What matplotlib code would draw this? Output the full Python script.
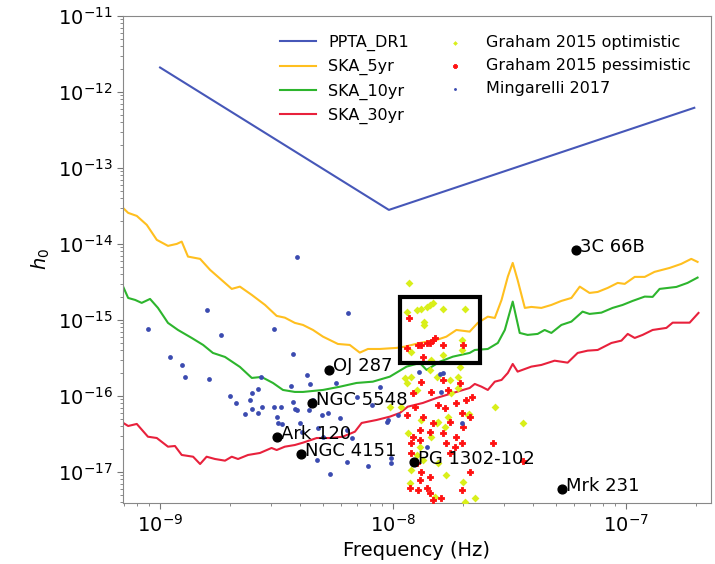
import numpy as np
import matplotlib
matplotlib.use("Agg")
import matplotlib.pyplot as plt
from matplotlib.patches import Rectangle
from matplotlib.ticker import NullFormatter

# sensitivity curves as log10(f), log10(h0)
ppta_logf = [-9.0, -8.017, -6.705]
ppta_logh = [-11.68, -13.553, -12.21]

ska5_logf = [-9.158, -9.137, -9.100, -9.057, -9.014, -8.966, -8.928, -8.907, -8.880, -8.828,
             -8.785, -8.692, -8.657, -8.606, -8.549, -8.499, -8.464, -8.421, -8.386, -8.343,
             -8.300, -8.236, -8.185, -8.142, -8.107, -8.056, -7.984, -7.948, -7.884, -7.812,
             -7.770, -7.727, -7.670, -7.635, -7.592, -7.562, -7.533, -7.506, -7.485, -7.464,
             -7.433, -7.405, -7.362, -7.319, -7.276, -7.233, -7.197, -7.155, -7.120, -7.077,
             -7.034, -7.004, -6.961, -6.918, -6.876, -6.811, -6.761, -6.718, -6.691]
ska5_logh = [-13.530, -13.592, -13.632, -13.750, -13.947, -14.026, -14.000, -13.970, -14.167, -14.197,
             -14.342, -14.592, -14.562, -14.671, -14.803, -14.947, -14.970, -15.039, -15.066, -15.132,
             -15.220, -15.316, -15.329, -15.430, -15.382, -15.382, -15.368, -15.351, -15.303, -15.263,
             -15.220, -15.132, -15.154, -15.039, -14.957, -14.974, -14.737, -14.430, -14.250, -14.474,
             -14.842, -14.829, -14.842, -14.803, -14.750, -14.711, -14.562, -14.645, -14.632, -14.579,
             -14.513, -14.526, -14.434, -14.434, -14.368, -14.316, -14.263, -14.197, -14.237]

ska10_logf = [-9.158, -9.137, -9.107, -9.079, -9.043, -9.009, -8.966, -8.923, -8.864, -8.815,
              -8.773, -8.721, -8.657, -8.606, -8.564, -8.515, -8.472, -8.421, -8.386, -8.300,
              -8.227, -8.156, -8.086, -8.013, -7.941, -7.884, -7.855, -7.798, -7.742, -7.670,
              -7.648, -7.592, -7.549, -7.519, -7.485, -7.455, -7.421, -7.378, -7.348, -7.319,
              -7.276, -7.233, -7.185, -7.155, -7.104, -7.056, -7.013, -6.970, -6.918, -6.884,
              -6.854, -6.782, -6.734, -6.691]
ska10_logh = [-14.566, -14.711, -14.737, -14.776, -14.724, -14.842, -15.039, -15.132, -15.237, -15.329,
              -15.434, -15.487, -15.618, -15.763, -15.750, -15.829, -15.921, -15.947, -15.947, -15.921,
              -15.878, -15.829, -15.812, -15.746, -15.614, -15.566, -15.658, -15.549, -15.483, -15.434,
              -15.395, -15.382, -15.303, -15.132, -14.759, -15.171, -15.197, -15.184, -15.132, -15.171,
              -15.066, -15.022, -14.891, -14.921, -14.904, -14.842, -14.803, -14.750, -14.693, -14.697,
              -14.592, -14.566, -14.513, -14.443]

ska30_logf = [-9.158, -9.137, -9.100, -9.052, -9.014, -8.966, -8.936, -8.907, -8.858, -8.828,
              -8.800, -8.764, -8.721, -8.692, -8.665, -8.622, -8.571, -8.521, -8.499, -8.464,
              -8.421, -8.386, -8.327, -8.270, -8.215, -8.163, -8.134, -8.070, -8.013, -7.970,
              -7.936, -7.871, -7.812, -7.742, -7.670, -7.648, -7.619, -7.592, -7.562, -7.533,
              -7.506, -7.485, -7.464, -7.405, -7.362, -7.305, -7.249, -7.206, -7.163, -7.120,
              -7.061, -7.018, -6.991, -6.961, -6.927, -6.884, -6.825, -6.798, -6.725, -6.687]
ska30_logh = [-16.355, -16.395, -16.368, -16.536, -16.553, -16.667, -16.658, -16.776, -16.799, -16.895,
              -16.799, -16.829, -16.851, -16.799, -16.829, -16.776, -16.750, -16.684, -16.711, -16.667,
              -16.645, -16.614, -16.553, -16.553, -16.536, -16.470, -16.355, -16.316, -16.272, -16.224,
              -16.141, -16.092, -16.026, -15.961, -15.895, -15.842, -15.878, -15.921, -15.812, -15.789,
              -15.697, -15.579, -15.680, -15.614, -15.592, -15.536, -15.562, -15.434, -15.404, -15.395,
              -15.303, -15.272, -15.184, -15.237, -15.197, -15.132, -15.105, -15.036, -15.036, -14.908]

# Graham 2015 candidates
opt_logf = [-7.930, -7.941, -7.898, -7.877, -7.855, -7.841, -7.827, -7.784, -7.691, -7.866,
            -7.866, -7.705, -7.705, -7.784, -7.834, -7.948, -7.920, -7.841, -7.812, -7.755,
            -7.720, -7.712, -7.898, -7.749, -7.720, -7.562, -7.963, -7.763, -7.677, -7.877,
            -7.806, -7.777, -7.834, -7.812, -7.934, -7.884, -7.898, -7.920, -7.770, -7.698,
            -7.648, -7.927, -7.820, -7.870, -7.806, -7.674, -7.441, -8.013, -7.941, -7.691,
            -7.920]
opt_logh = [-14.509, -14.891, -14.868, -14.859, -14.825, -14.803, -14.780, -14.855, -14.859, -15.022,
            -15.066, -15.263, -15.395, -15.461, -15.526, -15.767, -15.746, -15.658, -15.746, -15.789,
            -15.746, -15.614, -15.921, -15.964, -15.899, -16.141, -16.141, -16.272, -16.250, -16.316,
            -16.338, -16.404, -16.536, -16.359, -16.491, -16.667, -16.776, -16.974, -17.039, -17.128,
            -17.346, -17.149, -17.325, -16.842, -16.886, -16.241, -16.359, -16.141, -15.833, -17.391,
            -15.417]

pes_logf = [-7.930, -7.941, -7.891, -7.877, -7.855, -7.841, -7.827, -7.820, -7.784, -7.698,
            -7.870, -7.784, -7.877, -7.913, -7.763, -7.712, -7.834, -7.941, -7.906, -7.806,
            -7.777, -7.727, -7.684, -7.662, -7.670, -7.870, -7.827, -7.884, -7.841, -7.913,
            -7.755, -7.705, -7.784, -7.727, -7.698, -7.920, -7.884, -7.770, -7.734, -7.705,
            -7.570, -7.920, -7.898, -7.755, -7.877, -7.841, -7.884, -7.927, -7.891, -7.855,
            -7.841, -7.791, -7.705, -7.670, -7.441, -7.828]
pes_logh = [-14.978, -15.372, -15.329, -15.329, -15.307, -15.299, -15.263, -15.241, -15.329, -15.329,
            -15.491, -15.789, -15.812, -15.964, -15.921, -15.833, -15.943, -16.250, -16.141, -16.118,
            -16.162, -16.096, -16.053, -16.009, -16.272, -16.272, -16.359, -16.447, -16.470, -16.536,
            -16.338, -16.228, -16.491, -16.536, -16.404, -16.622, -16.579, -16.622, -16.667, -16.622,
            -16.622, -16.754, -16.886, -16.754, -16.996, -17.062, -17.105, -17.214, -17.237, -17.214,
            -17.280, -17.346, -17.237, -16.996, -16.851, -17.368]

# Mingarelli 2017
ming_logf = [-9.050, -8.800, -8.738, -8.509, -8.957, -8.907, -8.893, -8.788, -8.413, -8.428,
             -8.700, -8.675, -8.606, -8.578, -8.614, -8.606, -8.635, -8.578, -8.564, -8.509,
             -8.482, -8.497, -8.492, -8.478, -8.438, -8.428, -8.421, -8.567, -8.192, -8.368,
             -8.356, -8.246, -8.342, -8.359, -8.306, -8.278, -8.227, -8.321, -8.299, -8.199,
             -8.325, -8.270, -8.199, -8.389, -8.399, -8.413, -8.177, -8.106, -8.020, -7.887,
             -7.784, -7.791, -7.705, -8.091, -8.156, -8.056, -8.027, -7.977, -8.006, -8.006,
             -7.855, -7.798]
ming_logh = [-15.122, -14.868, -15.201, -15.114, -15.483, -15.588, -15.746, -15.780, -14.167, -15.451,
             -16.000, -16.088, -15.964, -15.908, -16.053, -16.171, -16.237, -16.228, -16.145, -16.145,
             -16.145, -16.272, -16.359, -16.372, -15.868, -16.083, -16.171, -15.746, -14.912, -15.724,
             -15.846, -15.833, -16.053, -16.184, -16.250, -16.228, -16.293, -16.425, -16.543, -16.447,
             -16.842, -17.030, -16.864, -16.470, -16.351, -16.184, -16.557, -16.921, -16.316, -15.680,
             -15.693, -15.943, -16.359, -16.118, -16.009, -15.878, -16.338, -16.250, -16.820, -16.886,
             -16.667, -15.714]

# named sources
src_names = ["3C 66B", "OJ 287", "NGC 5548", "Ark 120", "NGC 4151", "PG 1302-102", "Mrk 231"]
src_f = [6.1e-8, 5.3e-9, 4.5e-9, 3.18e-9, 4.03e-9, 1.23e-8, 5.33e-8]
src_h = [8.2e-15, 2.2e-16, 8.0e-17, 2.87e-17, 1.71e-17, 1.34e-17, 5.9e-18]

# zoom box
box_f = [1.07e-8, 2.36e-8]
box_h = [2.74e-16, 2.03e-15]


def p(a):
    return 10 ** np.array(a)


fig = plt.figure(figsize=(7.15, 5.64), dpi=100)
ax = fig.add_axes([0.172, 0.108, 0.822, 0.864])

ax.plot(p(ppta_logf), p(ppta_logh), color="#4657b8", lw=1.5, label="PPTA_DR1")
ax.plot(p(ska5_logf), p(ska5_logh), color="#ffbf1f", lw=1.5, label="SKA_5yr")
ax.plot(p(ska10_logf), p(ska10_logh), color="#2db52d", lw=1.5, label="SKA_10yr")
ax.plot(p(ska30_logf), p(ska30_logh), color="#e8213c", lw=1.5, label="SKA_30yr")

ax.scatter(p(opt_logf), p(opt_logh), s=16, marker="D", color="#d9ef1a", lw=0,
           label="Graham 2015 optimistic", zorder=3)
ax.scatter(p(pes_logf), p(pes_logh), s=24, marker="P", color="#ff1010", ec="#ff1010", lw=0.6,
           label="Graham 2015 pessimistic", zorder=3)
ax.scatter(p(ming_logf), p(ming_logh), s=12, marker="o", color="#3b4bb0", lw=0,
           label="Mingarelli 2017", zorder=3)

ax.scatter(src_f, src_h, s=40, color="black", zorder=4)
for name, f, h in zip(src_names, src_f, src_h):
    ax.annotate(name, (f, h), xytext=(3, -1), textcoords="offset points",
                fontsize=13, va="baseline", zorder=5)

ax.add_patch(Rectangle((box_f[0], box_h[0]), box_f[1] - box_f[0], box_h[1] - box_h[0],
                       fill=False, ec="black", lw=3, zorder=6))

ax.set_xscale("log")
ax.set_yscale("log")
ax.set_xlim(6.93e-10, 2.32e-7)
ax.set_ylim(3.9e-18, 1e-11)
ax.xaxis.set_minor_formatter(NullFormatter())
ax.yaxis.set_minor_formatter(NullFormatter())
ax.set_xlabel("Frequency (Hz)", fontsize=14)
ax.set_ylabel("$h_0$", fontsize=14)
ax.tick_params(which="both", labelsize=14, direction="out", top=False, right=False, color="#777777")
ax.tick_params(which="major", length=4)
ax.tick_params(which="minor", length=2.5)
for s in ax.spines.values():
    s.set_color("#888888")

ax.legend(loc="upper right", ncol=2, frameon=False, fontsize=11.5, scatterpoints=1,
          markerscale=0.6, bbox_to_anchor=(0.99, 0.99), handlelength=2.2, columnspacing=1.8)

fig.savefig("out.png", dpi=100)
